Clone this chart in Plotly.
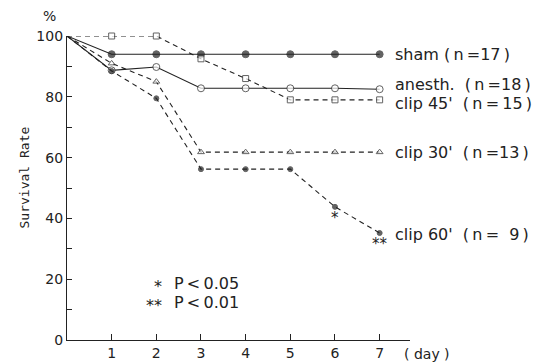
import plotly.graph_objects as go

days = [0, 1, 2, 3, 4, 5, 6, 7]
sham = [100, 94, 94, 94, 94, 94, 94, 94]
anesth = [100, 88.7, 89.8, 82.8, 82.8, 82.8, 82.8, 82.5]
clip45 = [100, 100, 100, 92.5, 86, 79, 79, 79]
clip30 = [100, 91, 85, 61.8, 61.8, 61.8, 61.8, 61.8]
clip60 = [100, 88.5, 79.5, 56.2, 56.2, 56.2, 43.8, 35.2]

NB = "\u00a0"
TH = "\u2009"
labels = ["sham" + NB + "(" + TH + "n" + TH + "=17" + TH + ")",
          "anesth." + NB + NB + "(" + TH + "n" + TH + "=18" + TH + ")",
          "clip" + NB + "45'" + NB + NB + "(" + TH + "n" + TH + "=" + TH + "15" + TH + ")",
          "clip" + NB + "30'" + NB + NB + "(" + TH + "n" + TH + "=13" + TH + ")",
          "clip" + NB + "60'" + NB + NB + "(" + TH + "n" + TH + "=" + NB + NB + "9" + TH + ")"]
x_ticks = [1, 2, 3, 4, 5, 6, 7]
y_ticks = [0, 20, 40, 60, 80, 100]
y_minor = [10, 30, 50, 70, 90]
sig_days = [6, 7]
sig_marks = ["*", "**"]
note_marks = ["*", "**"]
note_texts = ["P" + TH + "<" + TH + "0.05", "P" + TH + "<" + TH + "0.01"]

FONT = "DejaVu Sans"
INK = "#222"

series = [
    (sham, "solid", "circle", "#222", 7),
    (anesth, "solid", "circle", "white", 7),
    (clip45, "dash", "square", "white", 6),
    (clip30, "dash", "triangle-up", "white", 6),
    (clip60, "dash", "circle", "#222", 5),
]

fig = go.Figure()
for vals, dash, sym, fill, sz in series:
    sizes = [0] + [sz] * (len(days) - 1)
    fig.add_trace(go.Scatter(
        x=days, y=vals, mode="lines+markers",
        line=dict(color=INK, width=1.1, dash="5px,4px" if dash == "dash" else "solid"),
        marker=dict(symbol=sym, size=sizes, color=fill, line=dict(color=INK, width=1)),
        cliponaxis=False, showlegend=False,
    ))

fig.update_layout(
    width=541, height=363,
    margin=dict(l=67, r=131, t=36, b=23),
    paper_bgcolor="white", plot_bgcolor="white",
    font=dict(family=FONT, color=INK, size=14),
    xaxis=dict(range=[0, 7.68], tickvals=x_ticks, ticks="inside", ticklen=6,
               tickcolor=INK, showline=True, linecolor=INK, linewidth=1.2,
               showgrid=False, zeroline=False, automargin=False,
               tickfont=dict(size=14, family=FONT)),
    yaxis=dict(range=[0, 100], tickvals=y_ticks, ticks="inside", ticklen=5,
               tickcolor=INK, showline=True, linecolor=INK, linewidth=1.2,
               showgrid=False, zeroline=False, automargin=False,
               tickfont=dict(size=14, family=FONT), ticklabelstandoff=0,
               minor=dict(tickvals=y_minor, ticks="inside", ticklen=5, tickcolor=INK)),
)

label_shift = [0, 5, -4, 0, -2]
finals = [s[0][-1] for s in series]
for txt, yv, ys in zip(labels, finals, label_shift):
    fig.add_annotation(x=days[-1], y=yv, text=txt, xanchor="left",
                       yanchor="middle", xshift=13, yshift=ys, showarrow=False,
                       font=dict(size=16, family=FONT, color=INK))

for d, m in zip(sig_days, sig_marks):
    fig.add_annotation(x=d, y=clip60[days.index(d)], text=m, showarrow=False,
                       yshift=-11, font=dict(size=15, family=FONT, color=INK))

note_y = [18.7, 12.5]
for m, t, yv in zip(note_marks, note_texts, note_y):
    fig.add_annotation(x=2.35, y=yv, text=m, xanchor="right", xshift=-8, yshift=-3,
                       showarrow=False, font=dict(size=16, family=FONT, color=INK))
    fig.add_annotation(x=2.35, y=yv, text=t, xanchor="left", xshift=0,
                       showarrow=False, font=dict(size=16, family=FONT, color=INK))

fig.add_annotation(xref="paper", yref="paper", x=0, y=1, text="%", xanchor="right",
                   yanchor="bottom", xshift=-9, yshift=10, showarrow=False,
                   font=dict(size=14, family=FONT, color=INK))
fig.add_annotation(xref="paper", yref="paper", x=1, y=0, text="(" + NB + "day" + NB + ")",
                   xanchor="left", yanchor="top", xshift=-8, yshift=-4, showarrow=False,
                   font=dict(size=14, family=FONT, color=INK))
fig.add_annotation(xref="paper", yref="paper", x=0, y=0.533, text="Survival Rate",
                   textangle=-90, xshift=-52, showarrow=False,
                   font=dict(size=13, family="DejaVu Sans Mono", color=INK))

fig.write_html("out.html", config={"displayModeBar": False},
               post_script="document.body.style.margin='0';")
